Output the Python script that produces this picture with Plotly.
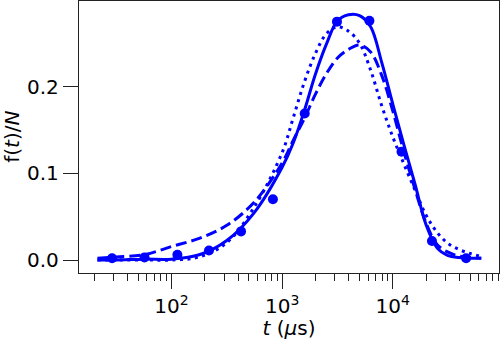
import plotly.graph_objects as go

# Measured data points
t_data = [29, 57, 113, 218, 425, 825, 1600, 3130, 6150, 12000, 22600, 46000]
f_data = [0.002, 0.003, 0.006, 0.011, 0.033, 0.070, 0.169, 0.275, 0.276, 0.125, 0.022, 0.002]

# Curves (t in microseconds)
t_curve = [21.4, 31.6, 56.2, 100, 178, 316, 562, 1000, 1259, 1585, 1995, 2512,
           3162, 3981, 5012, 6310, 7943, 10000, 12589, 15849, 19953, 25119,
           31623, 39811, 50119, 63096]
f_solid = [0.000, 0.000, 0.001, 0.001, 0.006, 0.0225, 0.055, 0.107, 0.135, 0.172,
           0.214, 0.249, 0.276, 0.283, 0.282, 0.269, 0.228, 0.180, 0.133, 0.088,
           0.041, 0.014, 0.005, 0.003, 0.002, 0.002]
f_dashed = [0.002, 0.0035, 0.006, 0.0155, 0.025, 0.040, 0.067, 0.112, 0.138, 0.163,
            0.191, 0.215, 0.233, 0.243, 0.248, 0.240, 0.213, 0.172, 0.125, 0.082,
            0.043, 0.018, 0.009, 0.0045, 0.003, 0.002]
f_dotted = [0.000, 0.000, 0.000, 0.000, 0.0035, 0.020, 0.0615, 0.124, 0.164, 0.205,
            0.238, 0.261, 0.269, 0.264, 0.250, 0.219, 0.178, 0.142, 0.111, 0.081,
            0.052, 0.032, 0.019, 0.012, 0.0075, 0.004]

x_major = [100, 1000, 10000]
x_major_text = ["10<sup>2</sup>", "10<sup>3</sup>", "10<sup>4</sup>"]
y_ticks = [0.0, 0.1, 0.2]
y_tick_text = ["0.0", "0.1", "0.2"]

minor_vals = [m * 10 ** e for e in range(1, 5) for m in range(2, 10) if 15 < m * 10 ** e < 95000]

blue = "#0000FF"
fig = go.Figure()
fig.add_trace(go.Scatter(x=t_curve, y=f_solid, mode="lines", line_shape="spline",
                         line=dict(color=blue, width=3)))
fig.add_trace(go.Scatter(x=t_curve, y=f_dashed, mode="lines", line_shape="spline",
                         line=dict(color=blue, width=3, dash="11px,5px")))
fig.add_trace(go.Scatter(x=t_curve, y=f_dotted, mode="lines", line_shape="spline",
                         line=dict(color=blue, width=3, dash="3px,4.5px")))
fig.add_trace(go.Scatter(x=t_data, y=f_data, mode="markers",
                         marker=dict(color=blue, size=10)))

font = dict(family="DejaVu Sans", size=20, color="black")
fig.update_layout(
    width=500, height=340, showlegend=False,
    margin=dict(l=79, r=1, t=1, b=67, autoexpand=False),
    paper_bgcolor="white", plot_bgcolor="white",
    font=font,
    xaxis=dict(type="log", range=[1.1635, 4.9603], showgrid=False, zeroline=False,
               automargin=False,
               showline=True, linecolor="#222", linewidth=1.3, mirror=True,
               tickmode="array", tickvals=x_major, ticktext=x_major_text,
               ticks="outside", ticklen=15, tickwidth=1.3, tickcolor="#222",
               minor=dict(tickmode="array", tickvals=minor_vals, ticks="outside",
                          ticklen=7, tickwidth=1.3, tickcolor="#222", showgrid=False),
               title=dict(text="<i>t</i> (<i>μ</i>s)", standoff=0, font=font)),
    yaxis=dict(range=[-0.015, 0.2988], showgrid=False, zeroline=False,
               automargin=False,
               showline=True, linecolor="#222", linewidth=1.3, mirror=True,
               tickmode="array", tickvals=y_ticks, ticktext=y_tick_text,
               ticks="outside", ticklen=15, tickwidth=1.3, tickcolor="#222"),
    annotations=[dict(text="f(<i>t</i>)/<i>N</i>", textangle=-90, showarrow=False,
                      xref="paper", yref="paper", x=-0.16, y=0.5,
                      xanchor="center", yanchor="middle", font=font)],
)
fig.write_html("out.html", config={"displayModeBar": False},
               post_script="document.body.style.margin='0';document.body.style.overflow='hidden';")
